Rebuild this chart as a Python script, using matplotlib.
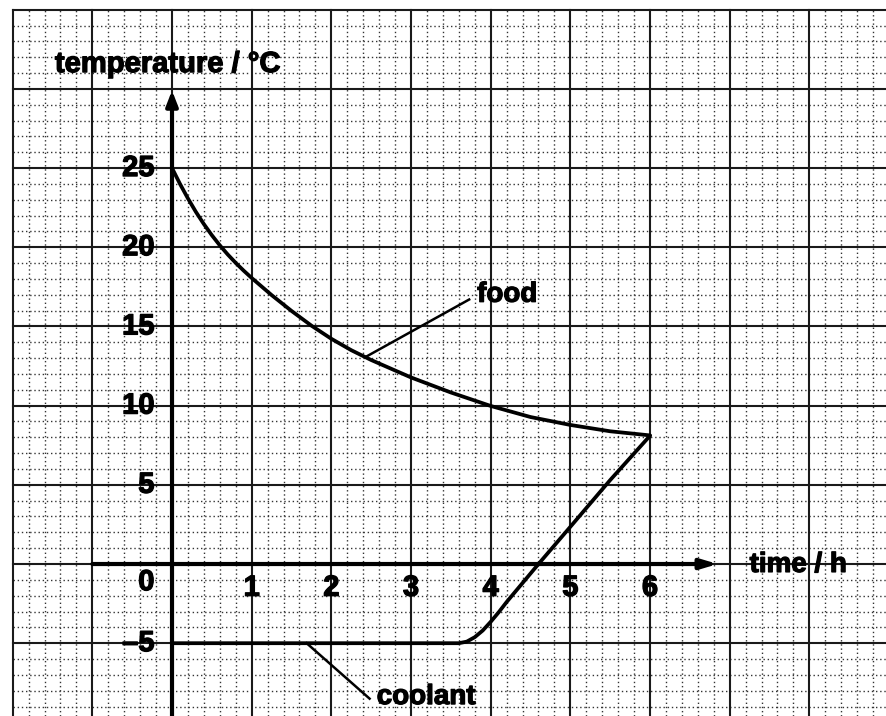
import numpy as np
import matplotlib
matplotlib.use("Agg")
import matplotlib.pyplot as plt
import matplotlib.patheffects as pe

# ---- data ----
food_time = [0, 0.1, 0.2, 0.3, 0.4, 0.5, 0.6, 0.7, 0.8, 0.9, 1.0, 1.25, 1.5, 1.75, 2.0, 2.25, 2.5,
             3.0, 3.5, 4.0, 4.5, 5.0, 5.5, 6.0]
food_temp = [25, 24.0, 23.08, 22.23, 21.46, 20.76, 20.12, 19.54, 19.01, 18.52, 18.06, 16.98, 15.98,
             15.05, 14.22, 13.5, 12.88, 11.78, 10.83, 9.98, 9.28, 8.78, 8.38, 8.12]

coolant_time = [0, 3.6, 3.7, 3.8, 3.9, 4.0, 4.1, 4.2, 4.6, 5.0, 5.5, 6.0]
coolant_temp = [-5, -5, -4.9, -4.62, -4.2, -3.65, -3.05, -2.4, 0, 2.35, 5.3, 8.1]

x_tick_values = [1, 2, 3, 4, 5, 6]
x_tick_labels = ["1", "2", "3", "4", "5", "6"]
y_tick_values = [25, 20, 15, 10, 5, -5]
y_tick_labels = ["25", "20", "15", "10", "5", "\u20135"]

x_label = "time / h"
y_label = "temperature / \u00b0C"
food_label = "food"
coolant_label = "coolant"

# ---- figure ----
W, H = 886, 716
fig = plt.figure(figsize=(W / 100, H / 100), dpi=100)
ax = fig.add_axes([0, 0, 1, 1])
xmin, xmax = -2.159, 8.962
ymin, ymax = -9.596, 35.61
ax.set_xlim(xmin, xmax)
ax.set_ylim(ymin, ymax)
ax.axis("off")

stroke = [pe.withStroke(linewidth=0.9, foreground="black")]
font = dict(family=["Liberation Sans", "DejaVu Sans"], fontweight="bold", color="black",
            path_effects=stroke)

grid_left, grid_top = -2.0, 35.0
# minor dotted grid
for t in np.arange(-2.0, xmax, 0.2):
    if abs(t - round(t)) > 1e-6:
        ax.plot([t, t], [ymin, grid_top], color="#333333", lw=1.0, ls=(0, (1, 2.0)), zorder=1)
for T in np.arange(-9, 35, 1):
    if T % 5 != 0:
        ax.plot([grid_left, xmax], [T, T], color="#333333", lw=1.0, ls=(0, (1, 2.0)), zorder=1)
# major grid
for t in range(-2, 9):
    ax.plot([t, t], [ymin, grid_top], color="#1a1a1a", lw=1.5, zorder=2)
for T in range(-5, 40, 5):
    ax.plot([grid_left, xmax], [T, T], color="#1a1a1a", lw=1.5, zorder=2)

# axes with arrows
ax.annotate("", xy=(0, 29.9), xytext=(0, ymin),
            arrowprops=dict(arrowstyle="-|>,head_length=0.9,head_width=0.35", lw=3, color="black",
                            shrinkA=0, shrinkB=0), zorder=5)
ax.annotate("", xy=(6.85, 0), xytext=(-1.0, 0),
            arrowprops=dict(arrowstyle="-|>,head_length=1.0,head_width=0.3", lw=3, color="black",
                            shrinkA=0, shrinkB=0), zorder=5)

# curves
ax.plot(food_time, food_temp, color="black", lw=2.7, zorder=6, solid_capstyle="round",
        solid_joinstyle="round")
ax.plot(coolant_time, coolant_temp, color="black", lw=2.7, zorder=6, solid_capstyle="round",
        solid_joinstyle="round")

# leader lines
ax.plot([2.44, 3.73], [13.1, 16.7], color="black", lw=1.8, zorder=6)
ax.plot([1.69, 2.48], [-5.0, -8.5], color="black", lw=1.8, zorder=6)

# tick labels
for v, lab in zip(y_tick_values, y_tick_labels):
    ax.text(-0.22, v, lab, ha="right", va="center", fontsize=21, zorder=7, **font)
ax.text(-0.22, -1.15, "0", ha="right", va="center", fontsize=21, zorder=7, **font)
for v, lab in zip(x_tick_values, x_tick_labels):
    ax.text(v, -1.5, lab, ha="center", va="center", fontsize=21, zorder=7, **font)

# labels
ax.text(-1.47, 31.06, y_label, ha="left", va="baseline", fontsize=21, zorder=7, **font)
ax.text(7.25, -0.5, x_label, ha="left", va="baseline", fontsize=20, zorder=7, **font)
ax.text(3.83, 17.0, food_label, ha="left", va="center", fontsize=20, zorder=7, **font)
ax.text(2.57, -8.4, coolant_label, ha="left", va="center", fontsize=20, zorder=7, **font)

fig.savefig("out.png", dpi=100, facecolor="white")
